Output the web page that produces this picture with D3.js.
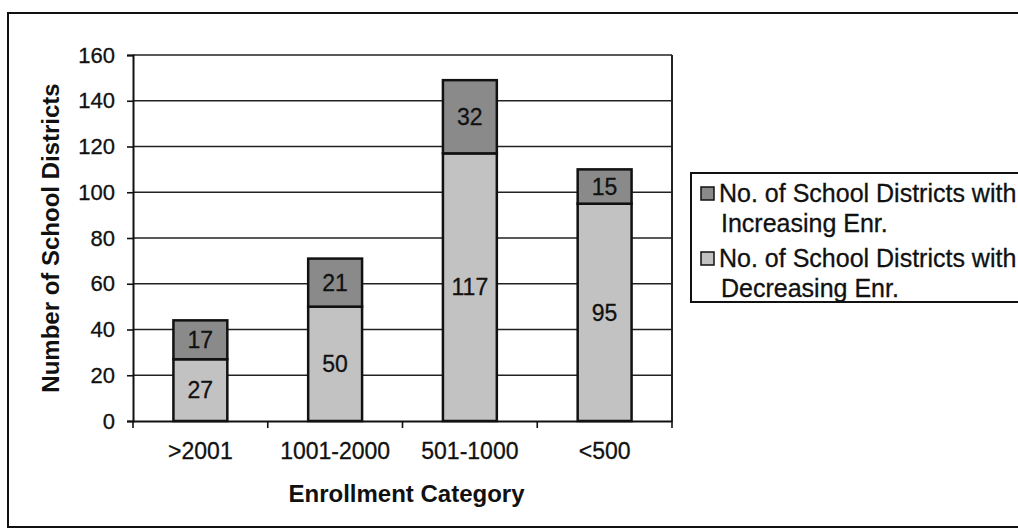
<!DOCTYPE html>
<html><head><meta charset="utf-8">
<script src="https://cdn.jsdelivr.net/npm/d3@7"></script>
<style>body{margin:0;background:#fff}svg{display:block}text{font-family:"Liberation Sans",Arial,sans-serif;fill:#111}</style>
</head><body>
<svg id="c" width="1018" height="532"></svg>
<script>
const categories = [">2001", "1001-2000", "501-1000", "<500"];
const decreasing = [27, 50, 117, 95];
const increasing = [17, 21, 32, 15];
const yTicks = [0, 20, 40, 60, 80, 100, 120, 140, 160];
const seriesNames = ["No. of School Districts with Increasing Enr.", "No. of School Districts with Decreasing Enr."];

const svg = d3.select("#c");
const W = 1018, H = 532;
const m = {left: 133, right: 672, top: 55, bottom: 421};
const FF = "'Liberation Sans', Arial, sans-serif";

svg.append("rect").attr("x", 8).attr("y", 13).attr("width", W).attr("height", 514)
  .attr("fill", "#fff").attr("stroke", "#111").attr("stroke-width", 2);

const x = d3.scaleBand().domain(categories).range([m.left, m.right]).paddingInner(0.6).paddingOuter(0.3);
const xb = d3.scaleBand().domain(categories).range([m.left, m.right]);
const y = d3.scaleLinear().domain([0, 160]).range([m.bottom, m.top]);

// gridlines
svg.append("g").selectAll("line").data(yTicks.filter(d => d > 0)).join("line")
  .attr("x1", m.left).attr("x2", m.right).attr("y1", d => y(d)).attr("y2", d => y(d))
  .attr("stroke", "#222").attr("stroke-width", 1.6);
svg.append("line").attr("x1", m.right).attr("x2", m.right).attr("y1", m.top).attr("y2", m.bottom)
  .attr("stroke", "#222").attr("stroke-width", 2);

// y axis
const ya = svg.append("g").attr("transform", `translate(${m.left},0)`)
  .call(d3.axisLeft(y).tickValues(yTicks).tickSize(6).tickPadding(12));
ya.select(".domain").attr("stroke", "#111").attr("stroke-width", 2);
ya.selectAll(".tick line").attr("stroke", "#111").attr("stroke-width", 1.6);
ya.selectAll("text").attr("font-size", 22).attr("fill", "#111").attr("font-family", FF)
  .attr("stroke", "#111").attr("stroke-width", 0.3);

// x axis
const xa = svg.append("g").attr("transform", `translate(0,${m.bottom})`)
  .call(d3.axisBottom(xb).tickSize(0).tickPadding(22));
xa.select(".domain").attr("stroke", "#111").attr("stroke-width", 2);
xa.selectAll("text").attr("font-size", 23).attr("fill", "#111").attr("font-family", FF)
  .attr("stroke", "#111").attr("stroke-width", 0.3);
const bounds = categories.map(c => xb(c)).concat([m.right]);
svg.append("g").selectAll("line").data(bounds).join("line")
  .attr("x1", d => d).attr("x2", d => d).attr("y1", m.bottom).attr("y2", m.bottom + 7)
  .attr("stroke", "#111").attr("stroke-width", 1.6);

// bars
const colDec = "#c2c2c2", colInc = "#8a8a8a";
const g = svg.append("g");
categories.forEach((c, i) => {
  g.append("rect").attr("x", x(c)).attr("width", x.bandwidth())
    .attr("y", y(decreasing[i])).attr("height", y(0) - y(decreasing[i]))
    .attr("fill", colDec).attr("stroke", "#111").attr("stroke-width", 2.5);
  g.append("rect").attr("x", x(c)).attr("width", x.bandwidth())
    .attr("y", y(decreasing[i] + increasing[i])).attr("height", y(decreasing[i]) - y(decreasing[i] + increasing[i]))
    .attr("fill", colInc).attr("stroke", "#111").attr("stroke-width", 2.5);
  g.append("text").attr("x", x(c) + x.bandwidth() / 2).attr("y", y(decreasing[i] / 2))
    .attr("text-anchor", "middle").attr("dy", "0.36em").attr("font-size", 23)
    .attr("stroke", "#111").attr("stroke-width", 0.3).text(decreasing[i]);
  g.append("text").attr("x", x(c) + x.bandwidth() / 2).attr("y", y(decreasing[i] + increasing[i] / 2))
    .attr("text-anchor", "middle").attr("dy", "0.36em").attr("font-size", 23)
    .attr("stroke", "#111").attr("stroke-width", 0.3).text(increasing[i]);
});

// axis titles
svg.append("text").attr("transform", `translate(59,${(m.top + m.bottom) / 2}) rotate(-90)`)
  .attr("text-anchor", "middle").attr("font-size", 24).attr("font-weight", "bold").text("Number of School Districts");
svg.append("text").attr("x", (m.left + m.right) / 2 + 4).attr("y", 502)
  .attr("text-anchor", "middle").attr("font-size", 24).attr("font-weight", "bold").text("Enrollment Category");

// legend
const lg = svg.append("g");
lg.append("rect").attr("x", 691).attr("y", 173).attr("width", 340).attr("height", 129)
  .attr("fill", "#fff").attr("stroke", "#111").attr("stroke-width", 2);
const legCols = [colInc, colDec];
seriesNames.forEach((s, i) => {
  const base = 202 + i * 65;
  lg.append("rect").attr("x", 701).attr("y", base - 15).attr("width", 13).attr("height", 13)
    .attr("fill", legCols[i]).attr("stroke", "#111").attr("stroke-width", 1.5);
  const idx = s.indexOf(" with ") + 5;
  lg.append("text").attr("x", 719).attr("y", base).attr("font-size", 25)
    .attr("stroke", "#111").attr("stroke-width", 0.3).text(s.slice(0, idx));
  lg.append("text").attr("x", 721).attr("y", base + 30).attr("font-size", 25)
    .attr("stroke", "#111").attr("stroke-width", 0.3).text(s.slice(idx + 1));
});
</script>
</body></html>
